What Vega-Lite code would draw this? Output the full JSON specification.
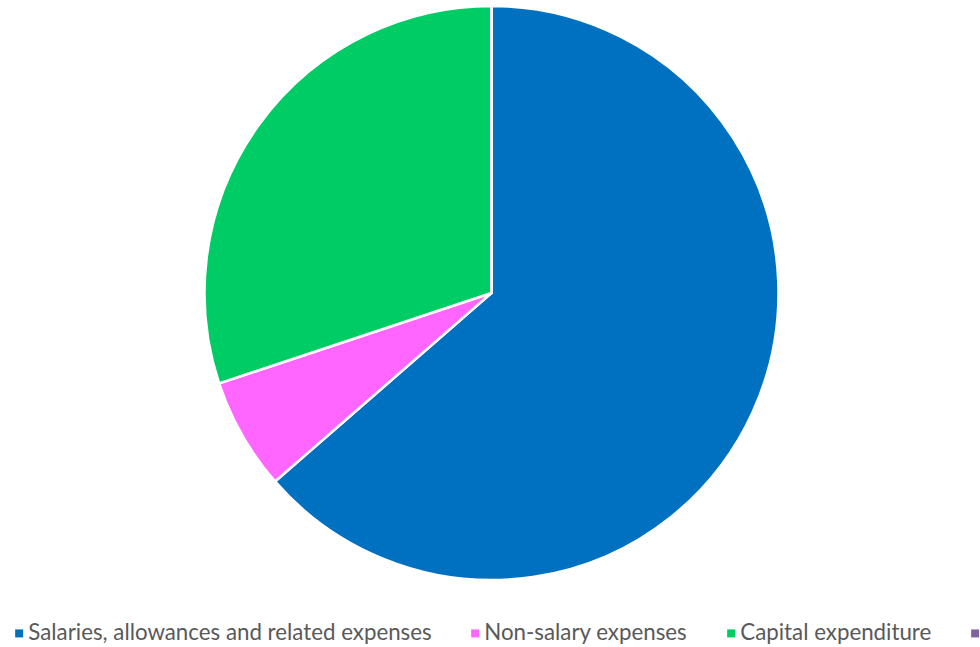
{
  "$schema": "https://vega.github.io/schema/vega-lite/v6.json",
  "autosize": {"type": "none"},
  "width": 983,
  "height": 586,
  "padding": {"left": 0, "top": 0, "right": 0, "bottom": 61},
  "background": "white",
  "view": {"stroke": null},
  "data": {
    "values": [
      {"category": "Salaries, allowances and related expenses", "value": 63.6, "idx": 1},
      {"category": "Non-salary expenses", "value": 6.3, "idx": 2},
      {"category": "Capital expenditure", "value": 30.1, "idx": 3},
      {"category": "Other", "value": 0, "idx": 4}
    ]
  },
  "mark": {"type": "arc", "outerRadius": 287, "stroke": "white", "strokeWidth": 2.5},
  "encoding": {
    "theta": {"field": "value", "type": "quantitative", "stack": true},
    "order": {"field": "idx", "type": "quantitative"},
    "color": {
      "field": "category",
      "type": "nominal",
      "scale": {
        "domain": ["Salaries, allowances and related expenses", "Non-salary expenses", "Capital expenditure", "Other"],
        "range": ["#0070C0", "#FF66FF", "#00CC66", "#8064A2"]
      },
      "legend": {
        "title": null,
        "orient": "none",
        "direction": "horizontal",
        "legendX": 8,
        "legendY": 622,
        "symbolType": "square",
        "symbolSize": 64,
        "symbolStrokeWidth": 0,
        "labelFont": "Lato",
        "labelFontSize": 22.3,
        "labelColor": "#595959",
        "labelLimit": 0,
        "labelOffset": -2,
        "labelExpr": "datum.label == 'Other' ? '' : datum.label",
        "columnPadding": 32,
        "columns": 4
      }
    }
  }
}
